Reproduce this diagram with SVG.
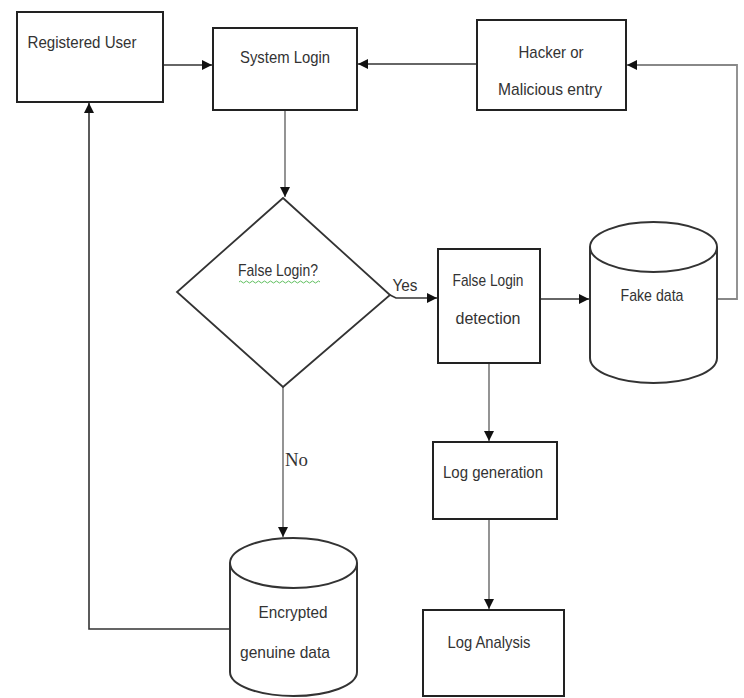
<svg xmlns="http://www.w3.org/2000/svg" width="744" height="698" viewBox="0 0 744 698">
<style>
.box{fill:#fff;stroke:#222;stroke-width:2}
.cyl{fill:#fff;stroke:#333;stroke-width:2}
.t{font-family:"Liberation Sans Narrow","Liberation Sans",Arial,sans-serif;font-size:17px;fill:#333;text-anchor:middle;dominant-baseline:central}
.s{font-family:"Liberation Serif","Times New Roman",serif;font-size:18px;fill:#333;dominant-baseline:central}
.c{fill:none;stroke:#333;stroke-width:1.6}
.g{fill:none;stroke:#888;stroke-width:1.8}
</style>
<defs>
<marker id="ah" viewBox="0 0 10 10" refX="10" refY="5" markerWidth="10" markerHeight="10" markerUnits="userSpaceOnUse" orient="auto">
<path d="M0,0 L10,5 L0,10 z" fill="#111"/>
</marker>
</defs>
<rect width="744" height="698" fill="#fff"/>
<g id="connectors">
<line class="c" x1="163" y1="65" x2="212" y2="65" marker-end="url(#ah)"/>
<line class="c" x1="477" y1="64" x2="358" y2="64" marker-end="url(#ah)"/>
<polyline class="g" points="717,299 737,299 737,65 627,65" marker-end="url(#ah)"/>
<line class="g" x1="285" y1="110" x2="285" y2="197" marker-end="url(#ah)"/>
<polyline class="c" points="390,295 396,298 437,298" marker-end="url(#ah)"/>
<line class="c" x1="540" y1="299" x2="589" y2="299" marker-end="url(#ah)"/>
<line class="g" x1="489" y1="363" x2="489" y2="441" marker-end="url(#ah)"/>
<line class="g" x1="489" y1="519" x2="489" y2="609" marker-end="url(#ah)"/>
<line class="g" x1="283" y1="387" x2="283" y2="537" marker-end="url(#ah)"/>
<polyline class="c" points="230,629 89,629 89,103" marker-end="url(#ah)"/>
<text class="t" x="405" y="285" textLength="25" lengthAdjust="spacingAndGlyphs">Yes</text>
<text class="s" x="285" y="460" textLength="23" lengthAdjust="spacingAndGlyphs">No</text>
</g>
<g id="registered-user">
<rect class="box" x="17" y="12" width="146" height="90"/>
<text class="t" x="82" y="42" textLength="109" lengthAdjust="spacingAndGlyphs">Registered User</text>
</g>
<g id="system-login">
<rect class="box" x="213" y="28" width="144" height="82"/>
<text class="t" x="285" y="57" textLength="90" lengthAdjust="spacingAndGlyphs">System Login</text>
</g>
<g id="hacker">
<rect class="box" x="477" y="20" width="149" height="90"/>
<text class="t" x="551" y="52" textLength="65" lengthAdjust="spacingAndGlyphs">Hacker or</text>
<text class="t" x="550" y="89" textLength="104" lengthAdjust="spacingAndGlyphs">Malicious entry</text>
</g>
<g id="false-login-decision">
<polygon class="box" points="283,198 390,295 283,387 177,292" style="stroke:#333;stroke-width:1.8"/>
<text class="t" x="278" y="270" textLength="80" lengthAdjust="spacingAndGlyphs">False Login?</text>
<path d="M239,282 q1.5,-2 3,0 t3,0 t3,0 t3,0 t3,0 t3,0 t3,0 t3,0 t3,0 t3,0 t3,0 t3,0 t3,0 t3,0 t3,0 t3,0 t3,0 t3,0 t3,0 t3,0 t3,0 t3,0 t3,0 t3,0 t3,0 t3,0 t3,0" fill="none" stroke="#5fbf5f" stroke-width="1"/>
</g>
<g id="false-login-detection">
<rect class="box" x="438" y="249" width="102" height="114"/>
<text class="t" x="488" y="280" textLength="71" lengthAdjust="spacingAndGlyphs">False Login</text>
<text class="t" x="488" y="318" textLength="65" lengthAdjust="spacingAndGlyphs">detection</text>
</g>
<g id="fake-data">
<path class="cyl" d="M590,247 L590,358 A63.5,25 0 0 0 717,358 L717,247 A63.5,25 0 0 0 590,247 A63.5,25 0 0 0 717,247"/>
<text class="t" x="652" y="295" textLength="63" lengthAdjust="spacingAndGlyphs">Fake data</text>
</g>
<g id="log-generation">
<rect class="box" x="433" y="442" width="124" height="77"/>
<text class="t" x="493" y="472" textLength="100" lengthAdjust="spacingAndGlyphs">Log generation</text>
</g>
<g id="log-analysis">
<rect class="box" x="423" y="610" width="141" height="86"/>
<text class="t" x="489" y="642" textLength="83" lengthAdjust="spacingAndGlyphs">Log Analysis</text>
</g>
<g id="encrypted-data">
<path class="cyl" d="M230,563 L230,672 A63.5,24 0 0 0 357,672 L357,563 A63.5,25 0 0 0 230,563 A63.5,25 0 0 0 357,563"/>
<text class="t" x="293" y="612" textLength="69" lengthAdjust="spacingAndGlyphs">Encrypted</text>
<text class="t" x="285" y="652" textLength="90" lengthAdjust="spacingAndGlyphs">genuine data</text>
</g>
</svg>
